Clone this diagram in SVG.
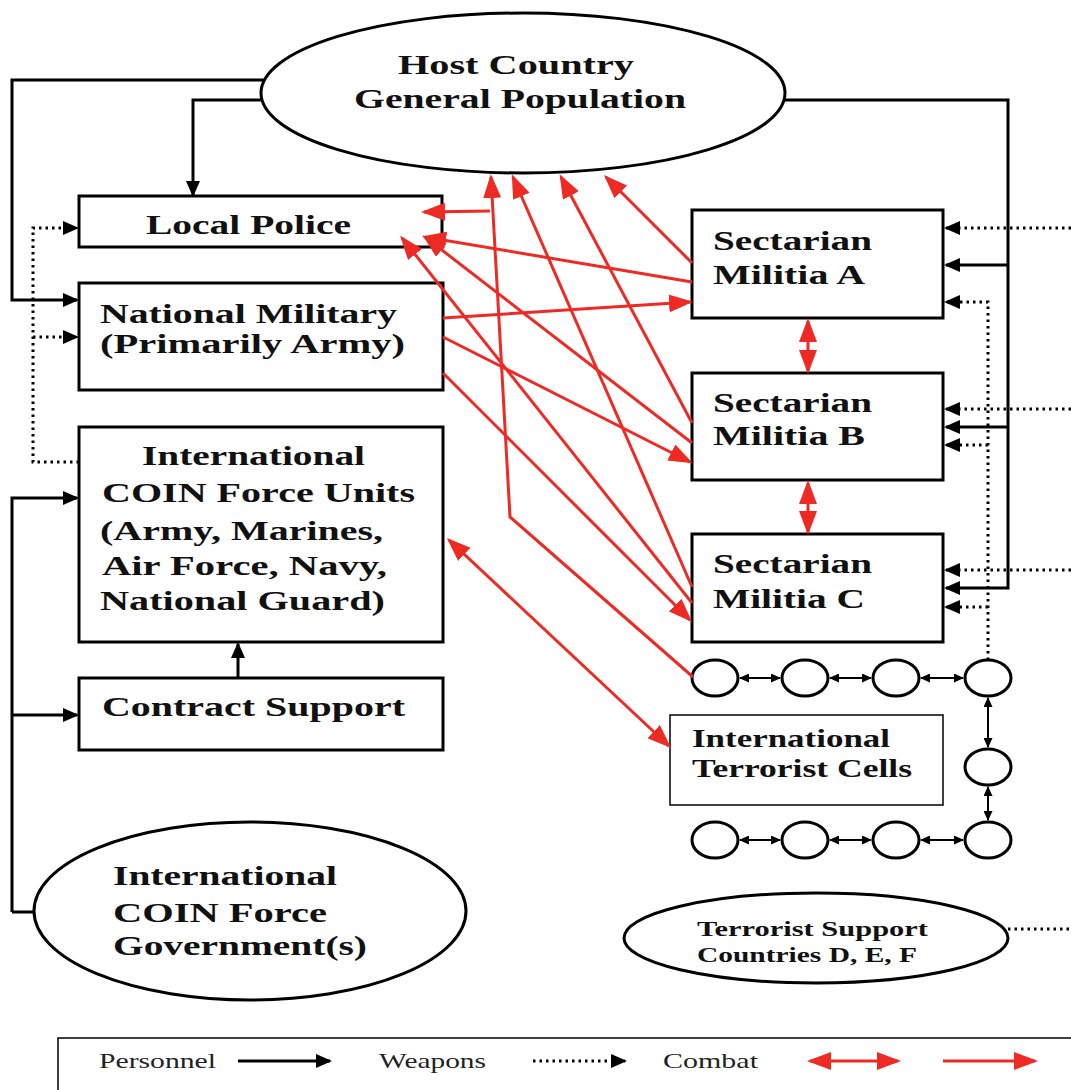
<svg xmlns="http://www.w3.org/2000/svg" width="1071" height="1090" viewBox="0 0 1071 1090">
<style>
.box{fill:#fff;stroke:#000;stroke-width:3}
.thin{fill:#fff;stroke:#000;stroke-width:1.5}
.lbl{font-family:"Liberation Serif","Times New Roman",serif;font-weight:bold;font-size:28px;fill:#111}
.mid{font-size:26px}
.sm{font-size:21px}
.leg{font-family:"Liberation Serif","Times New Roman",serif;font-size:22px;fill:#222}
.pers{fill:none;stroke:#000;stroke-width:3}
.pers2{fill:none;stroke:#000;stroke-width:2}
.weap{fill:none;stroke:#000;stroke-width:3;stroke-dasharray:2.5 4}
.comb{fill:none;stroke:#EE2A24;stroke-width:3}
</style>
<defs>
<marker id="ab" markerUnits="userSpaceOnUse" markerWidth="16" markerHeight="14" refX="14" refY="7" orient="auto-start-reverse"><path d="M0,0 L16,7 L0,14 z" fill="#000"/></marker>
<marker id="as" markerUnits="userSpaceOnUse" markerWidth="10" markerHeight="9" refX="9" refY="4.5" orient="auto-start-reverse"><path d="M0,0 L10,4.5 L0,9 z" fill="#000"/></marker>
<marker id="ar" markerUnits="userSpaceOnUse" markerWidth="24" markerHeight="18" refX="21" refY="9" orient="auto-start-reverse"><path d="M0,0 L24,9 L0,18 z" fill="#EE2A24"/></marker>
</defs>
<rect width="1071" height="1090" fill="#fff"/>

<g id="host-population">
  <ellipse class="box" cx="523" cy="93" rx="262" ry="80"/>
  <text class="lbl" x="398" y="74" textLength="236" lengthAdjust="spacingAndGlyphs">Host Country</text>
  <text class="lbl" x="354" y="108" textLength="332" lengthAdjust="spacingAndGlyphs">General Population</text>
</g>
<g id="local-police">
  <rect class="box" x="79" y="196" width="363" height="51"/>
  <text class="lbl" x="146" y="234" textLength="205" lengthAdjust="spacingAndGlyphs">Local Police</text>
</g>
<g id="national-military">
  <rect class="box" x="79" y="283" width="364" height="107"/>
  <text class="lbl" x="100" y="323" textLength="297" lengthAdjust="spacingAndGlyphs">National Military</text>
  <text class="lbl" x="100" y="353" textLength="305" lengthAdjust="spacingAndGlyphs">(Primarily  Army)</text>
</g>
<g id="coin-units">
  <rect class="box" x="79" y="427" width="364" height="215"/>
  <text class="lbl" x="142" y="465" textLength="223" lengthAdjust="spacingAndGlyphs">International</text>
  <text class="lbl" x="102" y="502" textLength="313" lengthAdjust="spacingAndGlyphs">COIN Force Units</text>
  <text class="lbl" x="100" y="540" textLength="283" lengthAdjust="spacingAndGlyphs">(Army, Marines,</text>
  <text class="lbl" x="102" y="575" textLength="285" lengthAdjust="spacingAndGlyphs">Air Force, Navy,</text>
  <text class="lbl" x="100" y="610" textLength="285" lengthAdjust="spacingAndGlyphs">National Guard)</text>
</g>
<g id="contract-support">
  <rect class="box" x="79" y="678" width="364" height="72"/>
  <text class="lbl" x="102" y="716" textLength="303" lengthAdjust="spacingAndGlyphs">Contract Support</text>
</g>
<g id="coin-governments">
  <ellipse class="box" cx="250" cy="911" rx="216" ry="89"/>
  <text class="lbl" x="113" y="885" textLength="224" lengthAdjust="spacingAndGlyphs">International</text>
  <text class="lbl" x="113" y="922" textLength="214" lengthAdjust="spacingAndGlyphs">COIN Force</text>
  <text class="lbl" x="113" y="955" textLength="254" lengthAdjust="spacingAndGlyphs">Government(s)</text>
</g>
<g id="militia-a">
  <rect class="box" x="692" y="210" width="251" height="108"/>
  <text class="lbl" x="713" y="250" textLength="159" lengthAdjust="spacingAndGlyphs">Sectarian</text>
  <text class="lbl" x="713" y="284" textLength="152" lengthAdjust="spacingAndGlyphs">Militia  A</text>
</g>
<g id="militia-b">
  <rect class="box" x="692" y="373" width="251" height="107"/>
  <text class="lbl" x="713" y="412" textLength="159" lengthAdjust="spacingAndGlyphs">Sectarian</text>
  <text class="lbl" x="713" y="445" textLength="152" lengthAdjust="spacingAndGlyphs">Militia  B</text>
</g>
<g id="militia-c">
  <rect class="box" x="692" y="534" width="251" height="108"/>
  <text class="lbl" x="713" y="573" textLength="159" lengthAdjust="spacingAndGlyphs">Sectarian</text>
  <text class="lbl" x="713" y="608" textLength="152" lengthAdjust="spacingAndGlyphs">Militia  C</text>
</g>
<g id="terrorist-cells">
  <rect class="thin" x="670" y="715" width="273" height="90"/>
  <text class="lbl mid" x="692" y="747" textLength="198" lengthAdjust="spacingAndGlyphs">International</text>
  <text class="lbl mid" x="692" y="777" textLength="220" lengthAdjust="spacingAndGlyphs">Terrorist Cells</text>
</g>
<g id="cell-nodes">
  <ellipse class="box" cx="715" cy="678" rx="23" ry="18"/>
  <ellipse class="box" cx="805" cy="678" rx="23" ry="18"/>
  <ellipse class="box" cx="896" cy="678" rx="23" ry="18"/>
  <ellipse class="box" cx="988" cy="678" rx="23" ry="18"/>
  <ellipse class="box" cx="988" cy="767" rx="23" ry="18"/>
  <ellipse class="box" cx="715" cy="840" rx="23" ry="18"/>
  <ellipse class="box" cx="805" cy="840" rx="23" ry="18"/>
  <ellipse class="box" cx="896" cy="840" rx="23" ry="18"/>
  <ellipse class="box" cx="988" cy="840" rx="23" ry="18"/>
</g>
<g id="terrorist-support">
  <ellipse class="box" cx="816" cy="938" rx="192" ry="45"/>
  <text class="lbl sm" x="697" y="936" textLength="231" lengthAdjust="spacingAndGlyphs">Terrorist Support</text>
  <text class="lbl sm" x="697" y="962" textLength="220" lengthAdjust="spacingAndGlyphs">Countries D, E, F</text>
</g>

<g id="connectors">
  <!-- personnel (solid) -->
  <polyline class="pers" points="264,80 12,80 12,300 77,300" marker-end="url(#ab)"/>
  <polyline class="pers" points="262,100 193,100 193,195" marker-end="url(#ab)"/>
  <polyline class="pers" points="12,912 12,498 77,498" marker-end="url(#ab)"/>
  <line class="pers" x1="12" y1="912" x2="34" y2="912"/>
  <line class="pers" x1="12" y1="715" x2="77" y2="715" marker-end="url(#ab)"/>
  <line class="pers" x1="238" y1="678" x2="238" y2="644" marker-end="url(#ab)"/>
  <polyline class="pers" points="785,100 1008,100 1008,588 946,588" marker-end="url(#ab)"/>
  <line class="pers" x1="1008" y1="265" x2="946" y2="265" marker-end="url(#ab)"/>
  <line class="pers" x1="1008" y1="427" x2="946" y2="427" marker-end="url(#ab)"/>
  <!-- weapons (dotted) -->
  <polyline class="weap" points="79,462 33,462 33,228 77,228" marker-end="url(#ab)"/>
  <line class="weap" x1="33" y1="337" x2="77" y2="337" marker-end="url(#ab)"/>
  <line class="weap" x1="1071" y1="228" x2="946" y2="228" marker-end="url(#ab)"/>
  <line class="weap" x1="1071" y1="409" x2="946" y2="409" marker-end="url(#ab)"/>
  <line class="weap" x1="1071" y1="570" x2="946" y2="570" marker-end="url(#ab)"/>
  <polyline class="weap" points="988,660 988,302 946,302" marker-end="url(#ab)"/>
  <line class="weap" x1="988" y1="445" x2="946" y2="445" marker-end="url(#ab)"/>
  <line class="weap" x1="988" y1="607" x2="946" y2="607" marker-end="url(#ab)"/>
  <line class="weap" x1="1008" y1="929" x2="1071" y2="929"/>
  <!-- cell links -->
  <line class="pers2" x1="740" y1="678" x2="780" y2="678" marker-start="url(#as)" marker-end="url(#as)"/>
  <line class="pers2" x1="830" y1="678" x2="871" y2="678" marker-start="url(#as)" marker-end="url(#as)"/>
  <line class="pers2" x1="921" y1="678" x2="963" y2="678" marker-start="url(#as)" marker-end="url(#as)"/>
  <line class="pers2" x1="740" y1="840" x2="780" y2="840" marker-start="url(#as)" marker-end="url(#as)"/>
  <line class="pers2" x1="830" y1="840" x2="871" y2="840" marker-start="url(#as)" marker-end="url(#as)"/>
  <line class="pers2" x1="921" y1="840" x2="963" y2="840" marker-start="url(#as)" marker-end="url(#as)"/>
  <line class="pers2" x1="988" y1="698" x2="988" y2="747" marker-start="url(#as)" marker-end="url(#as)"/>
  <line class="pers2" x1="988" y1="787" x2="988" y2="820" marker-start="url(#as)" marker-end="url(#as)"/>
  <!-- combat (red) -->
  <line class="comb" x1="692" y1="263" x2="606" y2="177" marker-end="url(#ar)"/>
  <line class="comb" x1="692" y1="282" x2="425" y2="237" marker-end="url(#ar)"/>
  <line class="comb" x1="443" y1="318" x2="690" y2="302" marker-end="url(#ar)"/>
  <line class="comb" x1="692" y1="423" x2="561" y2="177" marker-end="url(#ar)"/>
  <line class="comb" x1="692" y1="443" x2="425" y2="237" marker-end="url(#ar)"/>
  <line class="comb" x1="443" y1="337" x2="690" y2="462" marker-end="url(#ar)"/>
  <line class="comb" x1="692" y1="587" x2="513" y2="177" marker-end="url(#ar)"/>
  <line class="comb" x1="692" y1="603" x2="402" y2="238" marker-end="url(#ar)"/>
  <line class="comb" x1="443" y1="373" x2="690" y2="620" marker-end="url(#ar)"/>
  <polyline class="comb" points="693,677 510,517 491,177" marker-end="url(#ar)"/>
  <line class="comb" x1="490" y1="211" x2="424" y2="212" marker-end="url(#ar)"/>
  <line class="comb" x1="449" y1="540" x2="669" y2="746" marker-start="url(#ar)" marker-end="url(#ar)"/>
  <line class="comb" x1="808" y1="321" x2="808" y2="371" marker-start="url(#ar)" marker-end="url(#ar)"/>
  <line class="comb" x1="808" y1="483" x2="808" y2="532" marker-start="url(#ar)" marker-end="url(#ar)"/>
</g>

<g id="legend">
  <rect x="58" y="1038" width="1100" height="100" fill="none" stroke="#000" stroke-width="1.5"/>
  <text class="leg" x="99" y="1068" textLength="117" lengthAdjust="spacingAndGlyphs">Personnel</text>
  <line class="pers" x1="238" y1="1061" x2="330" y2="1061" marker-end="url(#ab)"/>
  <text class="leg" x="379" y="1068" textLength="107" lengthAdjust="spacingAndGlyphs">Weapons</text>
  <line class="weap" x1="533" y1="1061" x2="625" y2="1061" marker-end="url(#ab)"/>
  <text class="leg" x="663" y="1068" textLength="95" lengthAdjust="spacingAndGlyphs">Combat</text>
  <line class="comb" x1="810" y1="1061" x2="898" y2="1061" marker-start="url(#ar)" marker-end="url(#ar)"/>
  <line class="comb" x1="943" y1="1061" x2="1035" y2="1061" marker-end="url(#ar)"/>
</g>
</svg>
